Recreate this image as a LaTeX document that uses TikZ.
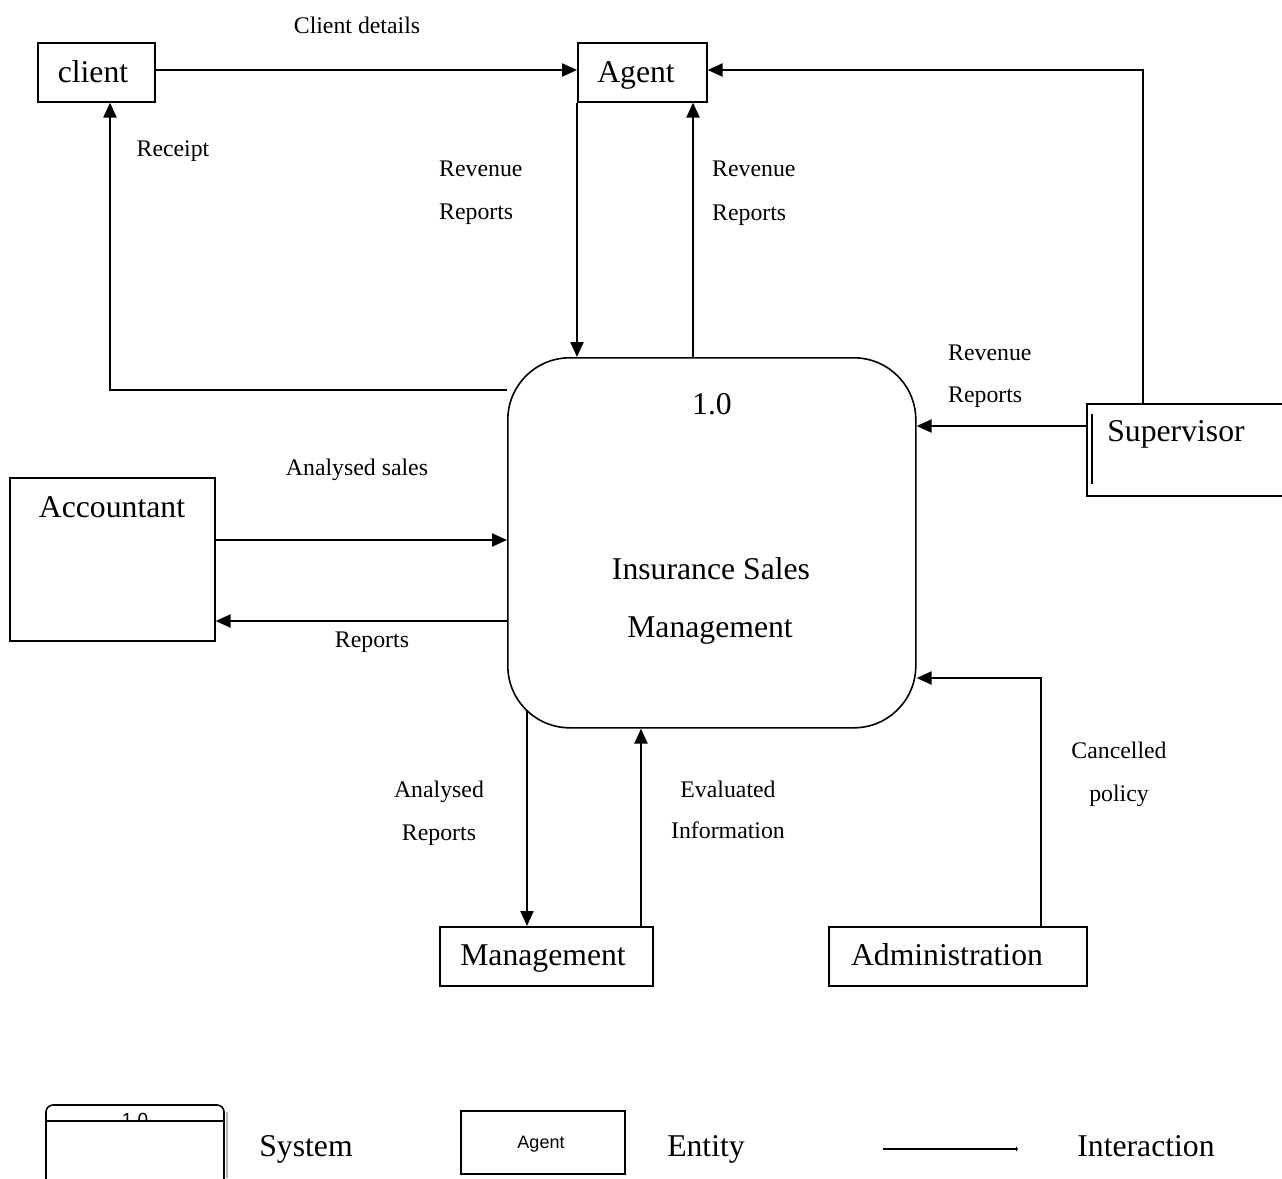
\documentclass[tikz,border=0pt]{standalone}
\usepackage{fontspec}
\setmainfont{Liberation Serif}
\newfontfamily\legsans{Liberation Sans}
\usetikzlibrary{arrows.meta,calc}
\begin{document}
\begin{tikzpicture}[x=1pt,y=-1pt,
  ent/.style={draw, line width=1.6pt, inner sep=0pt, anchor=north west},
  flow/.style={line width=2.2pt, -{Triangle[length=15pt,width=13pt]}},
  plain/.style={line width=2pt},
  big/.style={font=\fontsize{31.7}{40}\selectfont, anchor=base, inner sep=0pt},
  lbl/.style={font=\fontsize{23.8}{43}\selectfont, anchor=base, inner sep=0pt},
  lblw/.style={font=\fontsize{23.8}{43}\selectfont, anchor=base west, inner sep=0pt}]
\useasboundingbox (0,0) rectangle (1282,1178);
\fill[white] (0,0) rectangle (1282,1178);

% entities
\node[ent, minimum width=117pt, minimum height=59pt] (client) at (37,42) {};
\node[ent, minimum width=129pt, minimum height=59pt] (agent) at (577,42) {};
\node[ent, minimum width=205pt, minimum height=163pt] (acc) at (9,477) {};
\node[ent, minimum width=197pt, minimum height=92pt] (sup) at (1086,403) {};
\node[ent, minimum width=213pt, minimum height=59pt] (mgmt) at (439,926) {};
\node[ent, minimum width=258pt, minimum height=59pt] (admin) at (828,926) {};
\node[ent, rounded corners=62pt, minimum width=408pt, minimum height=370pt] (sys) at (507,357) {};
\draw[line width=1.6pt] ($(sup.north west)+(6,11)$) -- ($(sup.north west)+(6,81)$);

% entity texts
\node[big] (tclient) at (93,82) {client};
\node[big] (tagent) at (636,82) {Agent};
\node[big] (tacc) at (112,517) {Accountant};
\node[big] (tsup) at (1176,441) {Supervisor};
\node[big] (tmgmt) at (543,965) {Management};
\node[big] (tadmin) at (947,965) {Administration};
\node[big] (tnum) at (712,414) {1.0};
\node[big] (tname1) at (711,579) {Insurance Sales};
\node[big] (tname2) at (710,637) {Management};

% connector coordinates
\coordinate (supc) at (1143,70);
\coordinate (rc) at (110,390);
\coordinate (agx) at (693,230);
\coordinate (supin) at (1000,426);
\coordinate (accin) at (360,540);
\coordinate (accout) at (360,621);
\coordinate (mgdown) at (527,711);
\coordinate (mgup) at (641,820);
\coordinate (admc) at (1041,678);

% connectors
\draw[flow] (client.east |- supc) -- (agent.west |- supc);
\draw[flow] (sup.north -| supc) -- (supc) -- (agent.east |- supc);
\draw[flow] (sys.west |- rc) -- (rc) -- (client.south -| rc);
\draw[flow] (agent.south west) -- (agent.south west |- sys.north);
\draw[flow] (sys.north -| agx) -- (agent.south -| agx);
\draw[flow] (sup.west |- supin) -- (sys.east |- supin);
\draw[flow] (acc.east |- accin) -- (sys.west |- accin);
\draw[flow] (sys.west |- accout) -- (acc.east |- accout);
\draw[flow] (mgdown) -- (mgmt.north -| mgdown);
\draw[flow] (mgmt.north -| mgup) -- (sys.south -| mgup);
\draw[flow] (admin.north -| admc) -- (admc) -- (sys.east |- admc);

% connector labels
\node[lbl] (lcd) at (357,33) {Client details};
\node[lbl] (lrc) at (173,156) {Receipt};
\node[lblw] (lr1a) at (439,176) {Revenue};
\node[lblw] (lr1b) at (439,219) {Reports};
\node[lblw] (lr2a) at (712,176) {Revenue};
\node[lblw] (lr2b) at (712,220) {Reports};
\node[lblw] (lr3a) at (948,360) {Revenue};
\node[lblw] (lr3b) at (948,402) {Reports};
\node[lbl] (las) at (357,475) {Analysed sales};
\node[lbl] (lrep) at (372,647) {Reports};
\node[lbl] (lar1) at (439,797) {Analysed};
\node[lbl] (lar2) at (439,840) {Reports};
\node[lbl] (lev1) at (728,797) {Evaluated};
\node[lbl] (lev2) at (728,838) {Information};
\node[lbl] (lcp1) at (1119,758) {Cancelled};
\node[lbl] (lcp2) at (1119,801) {policy};

% legend
\draw[gray!60, line width=1.5pt] (227,1112) -- (227,1178);
\draw[line width=1.6pt, rounded corners=7pt] (46,1182) -- (46,1105) -- (224,1105) -- (224,1182);
\draw[line width=1.6pt] (46,1121) -- (224,1121);
\begin{scope}
\clip (46,1105) rectangle (224,1120);
\node[font=\legsans\fontsize{19}{22}\selectfont, anchor=base, inner sep=0pt] (lgnum) at (135,1126) {1.0};
\end{scope}
\node[big] (lgsys) at (306,1156) {System};
\node[ent, minimum width=164pt, minimum height=63pt] (lgent) at (460,1110) {};
\node[font=\legsans\fontsize{18}{22}\selectfont, anchor=base, inner sep=0pt] (lgagent) at (541,1148) {Agent};
\node[big] (lgentity) at (706,1156) {Entity};
\coordinate (lga) at (883,1149);
\coordinate (lgb) at (1018,1149);
\draw[line width=1.8pt, -{Triangle[length=2pt,width=5pt]}] (lga) -- (lgb);
\node[big] (lgint) at (1146,1156) {Interaction};
\end{tikzpicture}
\end{document}
